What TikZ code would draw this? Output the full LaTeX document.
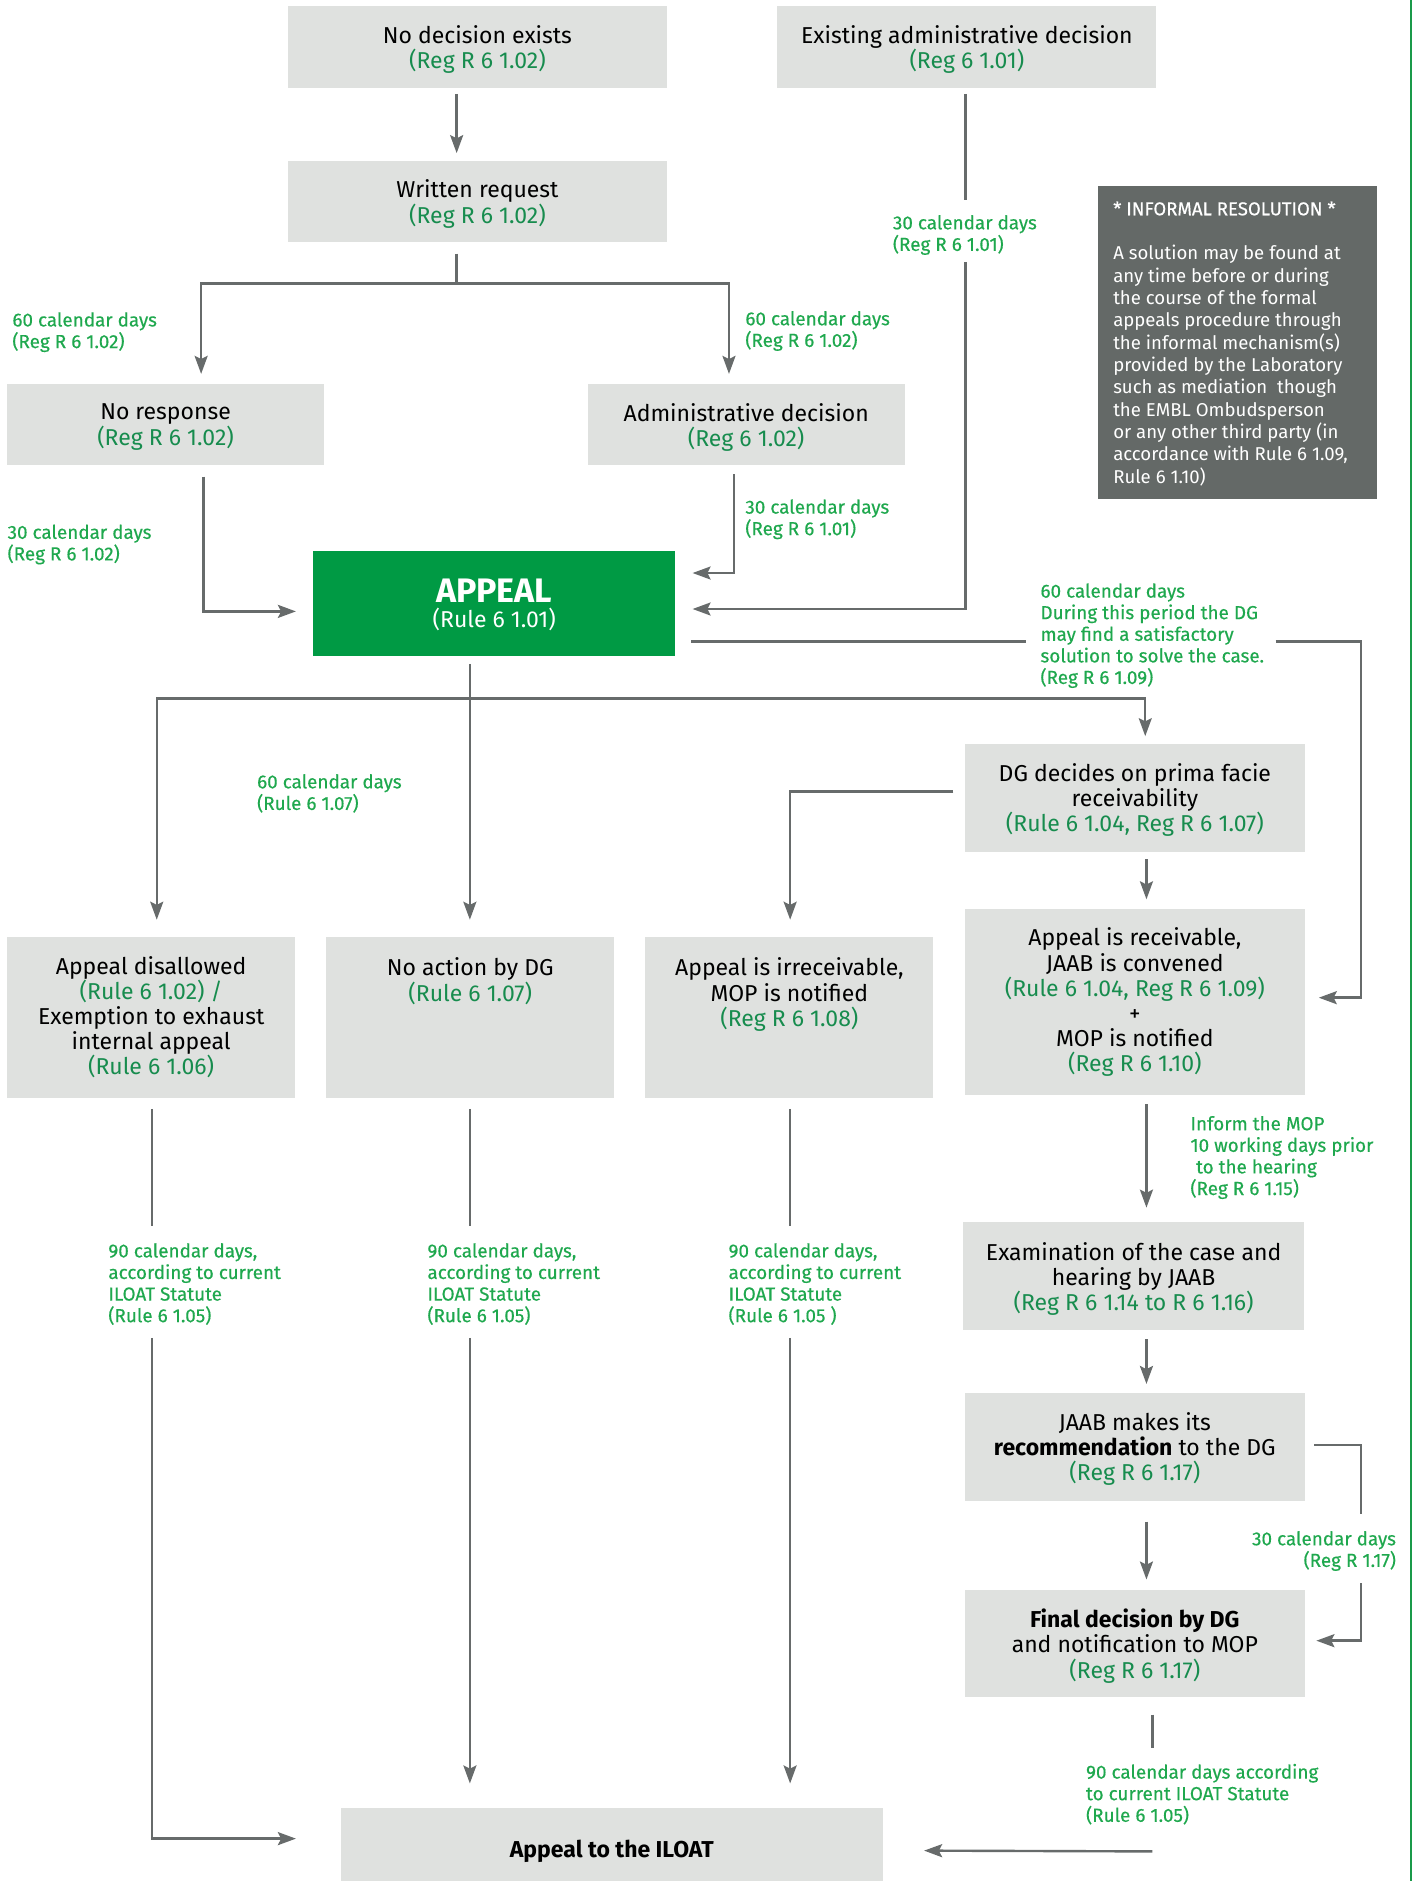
\documentclass[tikz,border=0pt]{standalone}
\usepackage{fontspec}
\setmainfont{Fira Sans}
\newfontfamily\lblfam{Fira Sans}[FakeBold=0.4]
\usetikzlibrary{arrows.meta,calc}
\definecolor{boxgrey}{HTML}{DFE1DF}
\definecolor{lgrey}{HTML}{676B6B}
\definecolor{lblgreen}{HTML}{1FA84E}
\definecolor{refgreen}{HTML}{178C4E}
\definecolor{appealgreen}{HTML}{009A44}
\definecolor{infogrey}{HTML}{646967}
\definecolor{edgegreen}{HTML}{1A9A4A}
\newcommand{\gr}[1]{\textcolor{refgreen}{#1}}
\begin{document}
\begin{tikzpicture}[x=0.6pt,y=-0.6pt,
  box/.style={fill=boxgrey, inner sep=0pt, align=center, text=black, anchor=center,
    font=\fontsize{11.5}{12.6}\selectfont},
  flat/.style={text depth=0pt},
  wh/.style 2 args={minimum width=#1*0.6pt, minimum height=#2*0.6pt},
  lbl/.style={inner sep=0pt, align=left, anchor=north west, text=lblgreen,
    font=\lblfam\fontsize{9.45}{10.8}\selectfont},
  ln/.style={draw=lgrey, line width=1.2pt},
  arr/.style={ln, -{Stealth[length=9pt,width=6.5pt,inset=1.6pt]}}]
\useasboundingbox (0,0) rectangle (1181,1568);
\draw[draw=edgegreen, line width=1.1pt] (1176,0) -- (1176,1568);

% boxes
\node[box, flat, wh={316}{68}] (b1) at (398,39) {No decision exists\\\gr{(Reg R 6 1.02)}};
\node[box, flat, wh={316}{68}] (b2) at (806,39) {Existing administrative decision\\\gr{(Reg 6 1.01)}};
\node[box, flat, wh={316}{68}] (b3) at (398,168) {Written request\\\gr{(Reg R 6 1.02)}};
\node[box, flat, wh={264}{68}] (b4) at (138,354) {No response\\\gr{(Reg R 6 1.02)}};
\node[box, flat, wh={264}{68}] (b5) at (622,354) {Administrative decision\\\gr{(Reg 6 1.02)}};
\node[box, wh={302}{88}, fill=appealgreen, text=white, text depth=-3.4pt] (app) at (412,503)
  {{\fontsize{17}{20}\selectfont\bfseries APPEAL}\\(Rule 6 1.01)};
\node[box, flat, wh={284}{90}] (dg) at (946,665) {DG decides on prima facie\\receivability\\\gr{(Rule 6 1.04, Reg R 6 1.07)}};
\node[box, wh={240}{134}] (dis) at (126,848) {Appeal disallowed\\\gr{(Rule 6 1.02) /}\\Exemption to exhaust\\internal appeal\\\gr{(Rule 6 1.06)}};
\node[box, wh={240}{134}] (noact) at (392,848) {No action by DG\\\gr{(Rule 6 1.07)}\\~\\~\\~};
\node[box, wh={240}{134}] (irr) at (658,848) {Appeal is irreceivable,\\MOP is notified\\\gr{(Reg R 6 1.08)}\\~\\~};
\node[box, wh={284}{155}] (rec) at (946,835.5) {Appeal is receivable,\\JAAB is convened\\\gr{(Rule 6 1.04, Reg R 6 1.09)}\\+\\MOP is notified\\\gr{(Reg R 6 1.10)}};
\node[box, flat, wh={284}{90}] (exam) at (945,1064) {Examination of the case and\\hearing by JAAB\\\gr{(Reg R 6 1.14 to R 6 1.16)}};
\node[box, flat, wh={284}{90}] (jaab) at (946,1206) {JAAB makes its\\\textbf{recommendation} to the DG\\\gr{(Reg R 6 1.17)}};
\node[box, flat, wh={284}{90}] (fin) at (946,1370) {\textbf{Final decision by DG}\\and notification to MOP\\\gr{(Reg R 6 1.17)}};
\node[box, flat, wh={452}{69}] (ilo) at (510,1541.5) {\textbf{Appeal to the ILOAT}};
\node[fill=infogrey, inner sep=0pt, wh={233}{261}] (info) at (1031.5,285.5) {};
\node[inner sep=0pt, anchor=north west, align=left, text=white,
  font=\fontsize{9.3}{11.16}\selectfont] (infotext) at ($(info.north west)+(13,13)$)
  {{\lblfam * INFORMAL RESOLUTION *}\\[11.16pt]
   A solution may be found at\\
   any time before or during\\
   the course of the formal\\
   appeals procedure through\\
   the informal mechanism(s)\\
   provided by the Laboratory\\
   such as mediation \ though\\
   the EMBL Ombudsperson\\
   or any other third party (in\\
   accordance with Rule 6 1.09,\\
   Rule 6 1.10)};

% labels
\node[lbl] (l1) at (10,260) {60 calendar days\\(Reg R 6 1.02)};
\node[lbl] (l2) at (621,259) {60 calendar days\\(Reg R 6 1.02)};
\node[lbl] (l3) at (744,179) {30 calendar days\\(Reg R 6 1.01)};
\node[lbl] (l4) at (6,437) {30 calendar days\\(Reg R 6 1.02)};
\node[lbl] (l5) at (621,416) {30 calendar days\\(Reg R 6 1.01)};
\node[lbl] (l6) at (867,486) {60 calendar days\\During this period the DG\\may find a satisfactory\\solution to solve the case.\\(Reg R 6 1.09)};
\node[lbl] (l7) at (214,645) {60 calendar days\\(Rule 6 1.07)};
\node[lbl] (l8) at (90,1036) {90 calendar days,\\according to current\\ILOAT Statute\\(Rule 6 1.05)};
\node[lbl] (l9) at (356,1036) {90 calendar days,\\according to current\\ILOAT Statute\\(Rule 6 1.05)};
\node[lbl] (l10) at (607,1036) {90 calendar days,\\according to current\\ILOAT Statute\\(Rule 6 1.05 )};
\node[lbl] (l11) at (992,930) {Inform the MOP\\10 working days prior\\\hspace{0.3em}to the hearing\\(Reg R 6 1.15)};
\node[lbl, anchor=north east, align=right] (l12) at (1164,1276) {30 calendar days\\(Reg R 1.17)};
\node[lbl] (l13) at (905,1470) {90 calendar days according\\to current ILOAT Statute\\(Rule 6 1.05)};

% connectors
\draw[arr] ($(b1.south west)+(141,5)$) -- ($(b3.north west)+(141,-6)$);
\draw[ln] ($(b3.south west)+(141,9)$) -- ++(0,25) coordinate (j1);
\draw[arr] (j1) -| ($(b4.north west)+(162,-8)$);
\draw[arr] (j1) -| ($(b5.north west)+(118,-8)$);
\draw[ln] ($(b2.south west)+(157,5)$) -- ($(b2.south west)+(157,93)$);
\draw[arr] ($(b2.south west)+(157,145)$) |- ($(app.north east)+(14,49)$);
\draw[arr] ($(b4.south west)+(164,9)$) |- ($(app.north west)+(-14,51)$);
\draw[arr] ($(b5.south west)+(122,7)$) |- ($(app.north east)+(14,19)$);
\draw[ln] ($(app.north east)+(13,76)$) -- ($(app.north east)+(292,76)$);
\draw[arr] ($(app.north east)+(500,76)$) -- ++(71,0) |- ($(rec.north east)+(11,74)$);
\draw[arr] ($(app.south west)+(131,6)$) -- ($(noact.north west)+(120,-14)$);
\coordinate (j2) at ($(app.south west)+(131,35)$);
\draw[arr] (j2) -| ($(dis.north west)+(125,-14)$);
\draw[arr] (j2) -| ($(dg.north west)+(151,-6)$);
\draw[arr] ($(dg.north west)+(-9,40)$) -| ($(irr.north west)+(121,-14)$);
\draw[arr] ($(dg.south west)+(152,6)$) -- ($(rec.north west)+(152,-8)$);
\draw[ln] ($(dis.south west)+(121,9)$) -- ($(dis.south west)+(121,107)$);
\draw[arr] ($(dis.south west)+(121,200)$) |- ($(ilo.north west)+(-37,26)$);
\draw[ln] ($(noact.south west)+(120,9)$) -- ($(noact.south west)+(120,107)$);
\draw[arr] ($(noact.south west)+(120,200)$) -- ($(ilo.north west)+(108,-20)$);
\draw[ln] ($(irr.south west)+(121,9)$) -- ($(irr.south west)+(121,107)$);
\draw[arr] ($(irr.south west)+(121,200)$) -- ($(ilo.north west)+(375,-20)$);
\draw[arr] ($(rec.south west)+(152,7)$) -- ($(exam.north west)+(153,-12)$);
\draw[arr] ($(exam.south west)+(153,7)$) -- ($(jaab.north west)+(152,-7)$);
\draw[arr] ($(jaab.south west)+(152,17)$) -- ($(fin.north west)+(152,-8)$);
\draw[ln] ($(jaab.north east)+(7,44)$) -- ++(39,0) -- ++(0,57);
\draw[arr] ($(fin.north east)+(46,-5)$) |- ($(fin.north east)+(9,43)$);
\draw[ln] ($(fin.south west)+(157,14)$) -- ($(fin.south west)+(157,42)$);
\draw[arr] ($(fin.south west)+(157,128)$) -- ($(ilo.north east)+(34,36)$);
\end{tikzpicture}
\end{document}
